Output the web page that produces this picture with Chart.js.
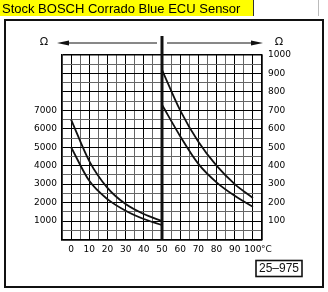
<!DOCTYPE html>
<html>
<head>
<meta charset="utf-8">
<script src="https://cdn.jsdelivr.net/npm/chart.js@4.4.0/dist/chart.umd.min.js"></script>
<style>
  html, body { margin: 0; padding: 0; background: #fff; }
  #wrap { width: 328px; height: 292px; }
</style>
</head>
<body>
<div id="wrap"><canvas id="myChart" width="328" height="292"></canvas></div>
<script>
const titleText = 'Stock BOSCH Corrado Blue ECU Sensor';
const figureCode = '25\u2013975';

// 0-50 °C, read on the left axis (ohms)
const tempsLeft = [0, 10, 20, 30, 40, 50];
const leftUpper = [6500, 4250, 2800, 1920, 1380, 1000];
const leftLower = [5000, 3180, 2190, 1560, 1110, 780];

// 50-100 °C, read on the right axis (ohms)
const tempsRight = [50, 60, 70, 80, 90, 100];
const rightUpper = [920, 700, 530, 400, 300, 225];
const rightLower = [730, 560, 410, 310, 237, 177];

const toPoints = (xs, ys) => xs.map((x, i) => ({ x: x, y: ys[i] }));

const tickFont = { family: 'DejaVu Sans', size: 9 };

function curve(xs, ys, axis) {
    return {
        data: toPoints(xs, ys),
        yAxisID: axis,
        borderColor: '#111',
        borderWidth: 1.8,
        pointRadius: 0,
        fill: false,
        cubicInterpolationMode: 'monotone'
    };
}

function gridStyle(isMajor, isEdge) {
    return {
        color: ctx => (isMajor(ctx.tick.value) || isEdge(ctx.tick.value)) ? '#000' : '#666',
        lineWidth: ctx => isEdge(ctx.tick.value) ? 1.5 : 1,
        dash: ctx => (isMajor(ctx.tick.value) || isEdge(ctx.tick.value)) ? [] : [2, 2],
        borderDash: ctx => (isMajor(ctx.tick.value) || isEdge(ctx.tick.value)) ? [] : [2, 2],
        drawTicks: false
    };
}

const decorations = {
    id: 'decorations',
    afterDraw(chart) {
        const c = chart.ctx;
        const area = chart.chartArea;
        const x = chart.scales.x;
        c.save();

        // title strip
        c.fillStyle = '#ffff00';
        c.fillRect(0, 0, 254, 16);
        c.fillStyle = '#333';
        c.fillRect(253, 0, 1, 16);
        c.fillStyle = '#bbb';
        c.fillRect(318, 0, 1, 16);
        c.fillStyle = '#000';
        c.font = '13px "Liberation Sans", Arial, sans-serif';
        c.textBaseline = 'alphabetic';
        c.textAlign = 'left';
        c.fillText(titleText, 2, 13);

        // outer frame
        c.strokeStyle = '#111';
        c.lineWidth = 2;
        c.strokeRect(5, 20, 318, 267);

        // thick divider at 50 °C
        const xm = x.getPixelForValue(50);
        c.lineWidth = 3;
        c.beginPath();
        c.moveTo(xm, 36);
        c.lineTo(xm, area.bottom);
        c.stroke();

        // arrows
        const ay = 43;
        c.lineWidth = 1;
        c.beginPath();
        c.moveTo(xm - 5, ay); c.lineTo(66, ay);
        c.moveTo(xm + 5, ay); c.lineTo(area.right - 4, ay);
        c.stroke();
        c.fillStyle = '#111';
        c.beginPath();
        c.moveTo(57, ay); c.lineTo(69, ay - 2.5); c.lineTo(69, ay + 2.5); c.closePath();
        c.fill();
        c.beginPath();
        c.moveTo(area.right + 1, ay); c.lineTo(area.right - 11, ay - 2.5); c.lineTo(area.right - 11, ay + 2.5); c.closePath();
        c.fill();

        // ohm symbols
        c.font = '11px "DejaVu Sans"';
        c.textAlign = 'center';
        c.textBaseline = 'middle';
        c.fillText('\u03A9', 44, 42);
        c.fillText('\u03A9', 279, 42);

        // degree sign after 100
        c.font = tickFont.size + 'px ' + tickFont.family;
        c.textAlign = 'left';
        c.fillText('\u00B0C', x.getPixelForValue(100) + 8, 250);

        // figure code box
        c.lineWidth = 1.6;
        c.strokeRect(256, 260.5, 46, 16);
        c.font = '12px "Liberation Sans", Arial, sans-serif';
        c.textAlign = 'center';
        c.fillText(figureCode, 279, 269);

        c.restore();
    }
};

const chartCtx = document.getElementById('myChart').getContext('2d');

new Chart(chartCtx, {
    type: 'line',
    data: {
        datasets: [
            curve(tempsLeft, leftUpper, 'y'),
            curve(tempsLeft, leftLower, 'y'),
            curve(tempsRight, rightUpper, 'y1'),
            curve(tempsRight, rightLower, 'y1')
        ]
    },
    options: {
        responsive: false,
        animation: false,
        layout: { padding: { top: 55, bottom: 32.5, left: 0, right: 0 } },
        plugins: {
            legend: { display: false },
            tooltip: { enabled: false }
        },
        scales: {
            x: {
                type: 'linear',
                min: -5,
                max: 105,
                afterFit: s => { s.height = 20; },
                grid: gridStyle(v => v % 10 === 0, v => v === -5 || v === 105),
                border: { display: true, color: '#000', width: 1.5 },
                ticks: {
                    stepSize: 5,
                    autoSkip: false,
                    maxRotation: 0,
                    padding: 5,
                    color: '#000',
                    font: tickFont,
                    callback: v => (v >= 0 && v <= 100 && v % 10 === 0) ? String(v) : ''
                }
            },
            y: {
                position: 'left',
                min: 0,
                max: 10000,
                afterFit: s => { s.width = 62; },
                grid: gridStyle(v => v % 1000 === 0, v => v === 0 || v === 10000),
                border: { display: true, color: '#000', width: 1.5 },
                ticks: {
                    stepSize: 500,
                    autoSkip: false,
                    padding: 5,
                    color: '#000',
                    font: tickFont,
                    callback: v => (v >= 1000 && v <= 7000 && v % 1000 === 0) ? String(v) : ''
                }
            },
            y1: {
                position: 'right',
                min: 0,
                max: 1000,
                afterFit: s => { s.width = 66; },
                grid: { drawOnChartArea: false, drawTicks: false },
                border: { display: true, color: '#000', width: 1.5 },
                ticks: {
                    stepSize: 50,
                    autoSkip: false,
                    padding: 6,
                    color: '#000',
                    font: tickFont,
                    callback: v => (v >= 100 && v % 100 === 0) ? String(v) : ''
                }
            }
        }
    },
    plugins: [decorations]
});
</script>
</body>
</html>
